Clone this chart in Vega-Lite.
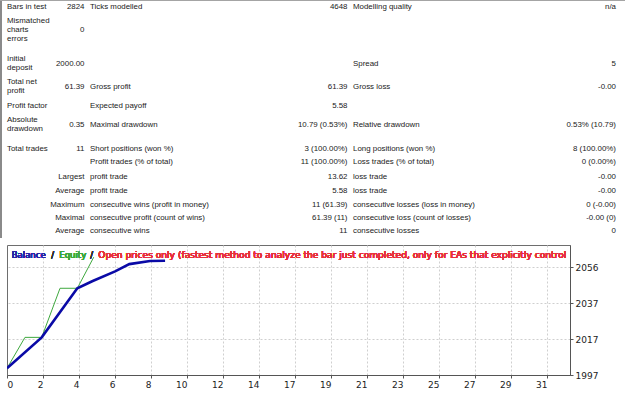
{
  "$schema": "https://vega.github.io/schema/vega-lite/v6.json",
  "padding": 0,
  "spacing": 6,
  "bounds": "full",
  "background": "white",
  "config": {"view": {"stroke": "#6e6e6e", "strokeWidth": 1}},
  "datasets": {
    "report": [
      {"row": 0, "col": 0, "text": "Bars in test"},
      {"row": 0, "col": 1, "text": "2824"},
      {"row": 0, "col": 2, "text": "Ticks modelled"},
      {"row": 0, "col": 3, "text": "4648"},
      {"row": 0, "col": 4, "text": "Modelling quality"},
      {"row": 0, "col": 5, "text": "n/a"},
      {"row": 1, "col": 0, "text": "Mismatched\ncharts\nerrors"},
      {"row": 1, "col": 1, "text": "0"},
      {"row": 2, "col": 0, "text": "Initial\ndeposit"},
      {"row": 2, "col": 1, "text": "2000.00"},
      {"row": 2, "col": 4, "text": "Spread"},
      {"row": 2, "col": 5, "text": "5"},
      {"row": 3, "col": 0, "text": "Total net\nprofit"},
      {"row": 3, "col": 1, "text": "61.39"},
      {"row": 3, "col": 2, "text": "Gross profit"},
      {"row": 3, "col": 3, "text": "61.39"},
      {"row": 3, "col": 4, "text": "Gross loss"},
      {"row": 3, "col": 5, "text": "-0.00"},
      {"row": 4, "col": 0, "text": "Profit factor"},
      {"row": 4, "col": 2, "text": "Expected payoff"},
      {"row": 4, "col": 3, "text": "5.58"},
      {"row": 5, "col": 0, "text": "Absolute\ndrawdown"},
      {"row": 5, "col": 1, "text": "0.35"},
      {"row": 5, "col": 2, "text": "Maximal drawdown"},
      {"row": 5, "col": 3, "text": "10.79 (0.53%)"},
      {"row": 5, "col": 4, "text": "Relative drawdown"},
      {"row": 5, "col": 5, "text": "0.53% (10.79)"},
      {"row": 6, "col": 0, "text": "Total trades"},
      {"row": 6, "col": 1, "text": "11"},
      {"row": 6, "col": 2, "text": "Short positions (won %)"},
      {"row": 6, "col": 3, "text": "3 (100.00%)"},
      {"row": 6, "col": 4, "text": "Long positions (won %)"},
      {"row": 6, "col": 5, "text": "8 (100.00%)"},
      {"row": 7, "col": 2, "text": "Profit trades (% of total)"},
      {"row": 7, "col": 3, "text": "11 (100.00%)"},
      {"row": 7, "col": 4, "text": "Loss trades (% of total)"},
      {"row": 7, "col": 5, "text": "0 (0.00%)"},
      {"row": 8, "col": 1, "text": "Largest"},
      {"row": 8, "col": 2, "text": "profit trade"},
      {"row": 8, "col": 3, "text": "13.62"},
      {"row": 8, "col": 4, "text": "loss trade"},
      {"row": 8, "col": 5, "text": "-0.00"},
      {"row": 9, "col": 1, "text": "Average"},
      {"row": 9, "col": 2, "text": "profit trade"},
      {"row": 9, "col": 3, "text": "5.58"},
      {"row": 9, "col": 4, "text": "loss trade"},
      {"row": 9, "col": 5, "text": "-0.00"},
      {"row": 10, "col": 1, "text": "Maximum"},
      {"row": 10, "col": 2, "text": "consecutive wins (profit in money)"},
      {"row": 10, "col": 3, "text": "11 (61.39)"},
      {"row": 10, "col": 4, "text": "consecutive losses (loss in money)"},
      {"row": 10, "col": 5, "text": "0 (-0.00)"},
      {"row": 11, "col": 1, "text": "Maximal"},
      {"row": 11, "col": 2, "text": "consecutive profit (count of wins)"},
      {"row": 11, "col": 3, "text": "61.39 (11)"},
      {"row": 11, "col": 4, "text": "consecutive loss (count of losses)"},
      {"row": 11, "col": 5, "text": "-0.00 (0)"},
      {"row": 12, "col": 1, "text": "Average"},
      {"row": 12, "col": 2, "text": "consecutive wins"},
      {"row": 12, "col": 3, "text": "11"},
      {"row": 12, "col": 4, "text": "consecutive losses"},
      {"row": 12, "col": 5, "text": "0"}
    ],
    "curves": [
      {"series": "Equity", "x": 0, "value": 2000.7},
      {"series": "Equity", "x": 1.06, "value": 2017.7},
      {"series": "Equity", "x": 2.05, "value": 2017.7},
      {"series": "Equity", "x": 3.13, "value": 2044.7},
      {"series": "Equity", "x": 4.15, "value": 2044.7},
      {"series": "Equity", "x": 5.12, "value": 2061.8},
      {"series": "Balance", "x": 0, "value": 2000.7},
      {"series": "Balance", "x": 2.05, "value": 2017.7},
      {"series": "Balance", "x": 4.15, "value": 2044.7},
      {"series": "Balance", "x": 5.06, "value": 2048.7},
      {"series": "Balance", "x": 6.38, "value": 2054.0},
      {"series": "Balance", "x": 7.22, "value": 2058.0},
      {"series": "Balance", "x": 8.44, "value": 2059.7},
      {"series": "Balance", "x": 9.33, "value": 2059.8}
    ]
  },
  "vconcat": [
    {
      "spacing": 0,
      "bounds": "flush",
      "vconcat": [
        {
          "width": 627,
          "height": 1,
          "view": {"stroke": null, "fill": "#a4a4a4"},
          "data": {"values": []},
          "mark": {"type": "point", "opacity": 0}
        },
        {
          "spacing": 0,
          "bounds": "flush",
          "hconcat": [
            {
              "width": 2,
              "height": 237,
              "view": {"stroke": null, "fill": "#8a8a8a"},
              "data": {"values": []},
              "mark": {"type": "point", "opacity": 0}
            },
            {
              "width": 625,
              "height": 237,
              "view": {"stroke": null},
              "data": {"name": "report"},
              "encoding": {
                "x": {"field": "col", "type": "quantitative", "axis": null,
                      "scale": {"domain": [0, 1, 2, 3, 4, 5], "range": [5, 82.5, 88, 345.5, 351, 614], "zero": false, "nice": false}},
                "y": {"field": "row", "type": "quantitative", "axis": null,
                      "scale": {"domain": [0, 1, 2, 3, 4, 5, 6, 7, 8, 9, 10, 11, 12], "range": [6, 29, 62.5, 85.5, 104.5, 123.5, 147.5, 161, 175.5, 189.5, 203.5, 217, 230], "zero": false, "nice": false}},
                "text": {"field": "text"}
              },
              "layer": [
                {"transform": [{"filter": "datum.col % 2 == 0 && length(split(datum.text, '\\n')) == 1"}],
                 "mark": {"type": "text", "align": "left", "baseline": "middle", "font": "Liberation Sans", "fontSize": 7.9, "color": "#222222"}},
                {"transform": [{"filter": "datum.col % 2 == 0 && length(split(datum.text, '\\n')) == 2"}],
                 "mark": {"type": "text", "align": "left", "baseline": "middle", "font": "Liberation Sans", "fontSize": 7.9, "color": "#222222", "lineBreak": "\n", "lineHeight": 9.2, "dy": -4.6}},
                {"transform": [{"filter": "datum.col % 2 == 0 && length(split(datum.text, '\\n')) == 3"}],
                 "mark": {"type": "text", "align": "left", "baseline": "middle", "font": "Liberation Sans", "fontSize": 7.9, "color": "#222222", "lineBreak": "\n", "lineHeight": 9.2, "dy": -9.2}},
                {"transform": [{"filter": "datum.col % 2 == 1"}],
                 "mark": {"type": "text", "align": "right", "baseline": "middle", "font": "Liberation Sans", "fontSize": 7.9, "color": "#222222"}}
              ]
            }
          ]
        }
      ]
    },
    {
      "spacing": 0,
      "bounds": "flush",
      "hconcat": [
        {
          "width": 7,
          "height": 130,
          "view": {"stroke": null},
          "data": {"values": []},
          "mark": {"type": "point", "opacity": 0}
        },
        {
          "width": 563,
          "height": 130,
          "data": {"name": "curves"},
          "encoding": {
            "x": {"field": "x", "type": "quantitative",
                  "scale": {"domain": [0, 33.23], "zero": false, "nice": false},
                  "axis": {"title": null, "values": [0, 2.125, 4.25, 6.375, 8.5, 10.625, 12.75, 14.875, 17, 19.125, 21.25, 23.375, 25.5, 27.625, 29.75, 31.875],
                           "labelExpr": "floor(datum.value)", "grid": true, "gridDash": [2, 2],
                           "gridColor": {"condition": {"test": "datum.value == 0", "value": "transparent"}, "value": "#cfcfcf"},
                           "domainColor": "#555555", "tickColor": "#555555", "tickSize": 3, "labelPadding": 2,
                           "labelFont": "DejaVu Sans", "labelFontSize": 9, "labelColor": "#222222",
                           "labelAlign": {"condition": {"test": "datum.value == 0", "value": "left"}, "value": "right"},
                           "labelBound": false, "labelOverlap": false, "labelFlush": false}},
            "y": {"field": "value", "type": "quantitative",
                  "scale": {"domain": [1997, 2068.5], "zero": false, "nice": false},
                  "axis": {"title": null, "orient": "right", "values": [1997, 2016.8, 2036.6, 2056.4], "format": ".0f",
                           "grid": true, "gridDash": [2, 2],
                           "gridColor": {"condition": {"test": "datum.value == 1997", "value": "transparent"}, "value": "#cfcfcf"},
                           "domainColor": "#555555", "tickColor": "#555555", "tickSize": 3, "labelPadding": 2,
                           "labelFont": "DejaVu Sans", "labelFontSize": 9, "labelColor": "#222222",
                           "labelOverlap": false, "labelBound": false}}
          },
          "layer": [
            {"transform": [{"filter": "datum.series == 'Equity'"}],
             "mark": {"type": "line", "color": "#3ea83e", "strokeWidth": 1, "clip": true}},
            {"transform": [{"filter": "datum.series == 'Balance'"}],
             "mark": {"type": "line", "color": "#0a0aa6", "strokeWidth": 2.6, "clip": true}},
            {"mark": {"type": "text", "align": "left", "baseline": "middle", "font": "DejaVu Sans", "fontSize": 8.5, "color": "#2626a6"},
             "encoding": {"x": {"datum": 0.28}, "y": {"datum": 2063.2}, "text": {"value": "Balance"}}},
            {"mark": {"type": "text", "align": "left", "baseline": "middle", "font": "DejaVu Sans", "fontSize": 8.5, "color": "#333333"},
             "encoding": {"x": {"datum": 2.61}, "y": {"datum": 2063.2}, "text": {"value": "/"}}},
            {"mark": {"type": "text", "align": "left", "baseline": "middle", "font": "DejaVu Sans", "fontSize": 8.5, "color": "#3ea83e"},
             "encoding": {"x": {"datum": 3.09}, "y": {"datum": 2063.2}, "text": {"value": "Equity"}}},
            {"mark": {"type": "text", "align": "left", "baseline": "middle", "font": "DejaVu Sans", "fontSize": 8.5, "color": "#333333"},
             "encoding": {"x": {"datum": 4.91}, "y": {"datum": 2063.2}, "text": {"value": "/"}}},
            {"mark": {"type": "text", "align": "left", "baseline": "middle", "font": "DejaVu Sans", "fontSize": 9.1, "color": "#e8303c"},
             "encoding": {"x": {"datum": 5.39}, "y": {"datum": 2063.2}, "text": {"value": "Open prices only (fastest method to analyze the bar just completed, only for EAs that explicitly control"}}}
          ]
        }
      ]
    }
  ]
}
